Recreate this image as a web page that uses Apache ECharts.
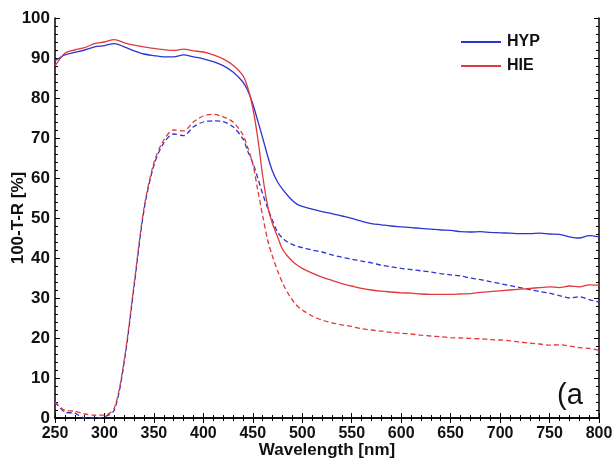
<!DOCTYPE html>
<html>
<head>
<meta charset="utf-8">
<script src="https://cdn.jsdelivr.net/npm/echarts@6/dist/echarts.min.js"></script>
<style>
  html, body { margin: 0; padding: 0; background: #fff; }
  #chart { width: 615px; height: 458px; }
</style>
</head>
<body>
<div id="chart"></div>
<script>
// wavelength grid (nm)
const wavelength = [
  250, 260, 270, 280, 290, 300, 310, 320, 330, 340, 350, 360, 370, 380, 390, 400, 410, 420, 430, 440,
  445, 450, 455, 460, 465, 470, 475, 480, 485, 490, 495, 500,
  510, 520, 530, 540, 550, 560, 570, 580, 590, 600, 610, 620, 630, 640, 650, 660, 670, 680, 690, 700,
  710, 720, 730, 740, 750, 760, 770, 780, 790, 800
]

// solid curves
const hypSolid = [
  89.3, 90.8, 91.4, 92.0, 92.8, 93.1, 93.6, 92.8, 91.8, 91.0, 90.6, 90.3, 90.3, 90.8, 90.3, 89.8, 89.1, 88.1, 86.5, 84.0,
  81.8, 78.5, 74.3, 70.0, 65.5, 61.6, 59.0, 57.2, 55.7, 54.4, 53.4, 52.9,
  52.2, 51.6, 51.1, 50.5, 49.9, 49.2, 48.6, 48.3, 48.0, 47.8, 47.6, 47.4, 47.2, 47.0, 46.9, 46.6, 46.5, 46.6, 46.4, 46.3,
  46.2, 46.1, 46.1, 46.2, 46.0, 45.9, 45.3, 45.0, 45.6, 45.3
]
const hieSolid = [
  88.0, 91.2, 92.0, 92.6, 93.6, 94.0, 94.6, 93.8, 93.2, 92.8, 92.4, 92.1, 91.9, 92.2, 91.8, 91.5, 90.8, 89.8, 88.2, 85.6,
  82.5, 77.5, 70.0, 60.5, 53.0, 48.5, 45.3, 42.2, 40.5, 39.2, 38.2, 37.4,
  36.2, 35.2, 34.4, 33.6, 33.0, 32.4, 32.0, 31.7, 31.5, 31.3, 31.2, 31.0, 30.9, 30.9, 30.9, 31.0, 31.1, 31.4, 31.6, 31.8,
  32.0, 32.2, 32.4, 32.6, 32.8, 32.6, 33.0, 32.8, 33.3, 33.2
]

// dashed curves
const hypDashed = [
  4.0, 1.5, 1.2, 0.0, 0.0, 0.3, 2.0, 14.0, 33.0, 52.0, 63.2, 68.8, 71.0, 70.6, 72.8, 74.0, 74.3, 74.1, 72.8, 69.8,
  66.6, 63.8, 60.0, 56.0, 52.5, 49.3, 46.5, 45.0, 44.0, 43.4, 42.9, 42.6,
  42.0, 41.5, 40.8, 40.2, 39.7, 39.2, 38.8, 38.2, 37.8, 37.4, 37.1, 36.8, 36.5, 36.1, 35.8, 35.5, 35.0, 34.6, 34.1, 33.6,
  33.1, 32.6, 32.1, 31.6, 31.2, 30.6, 30.0, 30.3, 29.6, 29.0
]
const hieDashed = [
  4.0, 1.9, 1.7, 1.0, 0.7, 0.7, 2.5, 14.5, 33.5, 52.5, 63.8, 69.5, 72.0, 71.8, 74.0, 75.5, 75.9, 75.3, 74.0, 70.8,
  67.5, 63.5, 57.0, 50.5, 44.5, 40.3, 36.8, 33.8, 31.4, 29.5, 28.0, 27.0,
  25.5, 24.5, 23.8, 23.3, 22.9, 22.3, 22.0, 21.7, 21.4, 21.2, 21.0, 20.7, 20.5, 20.3, 20.1, 20.0, 19.9, 19.8, 19.6, 19.5,
  19.3, 19.0, 18.7, 18.5, 18.2, 18.3, 18.0, 17.6, 17.4, 16.9
]

const BLUE = '#2b35cf'
const RED = '#e2383a'
const FONT = 'Liberation Sans, Arial, sans-serif'

function pairs(ys) {
  return wavelength.map((x, i) => [x, ys[i]])
}

function line(name, ys, color, dashed) {
  return {
    name: name,
    type: 'line',
    data: pairs(ys),
    showSymbol: false,
    smooth: 0.3,
    lineStyle: { color: color, width: 1.3, type: dashed ? [5, 3] : 'solid' },
    itemStyle: { color: color },
    z: dashed ? 2 : 3
  }
}

const tickStyle = { lineStyle: { color: '#000', width: 1 } }

const chart = echarts.init(document.getElementById('chart'))
chart.setOption({
  animation: false,
  backgroundColor: '#fff',
  grid: { left: 55, right: 16, top: 18, bottom: 40, outerBoundsMode: 'none', containLabel: false },
  legend: {
    data: ['HYP', 'HIE'],
    orient: 'vertical',
    left: 461,
    top: 34,
    padding: 0,
    itemWidth: 40,
    itemHeight: 2,
    itemGap: 8,
    icon: 'rect',
    textStyle: { fontFamily: FONT, fontSize: 16, fontWeight: 'bold', color: '#111', padding: [0, 0, 0, 1] }
  },
  xAxis: [
    {
      type: 'value', min: 250, max: 800, interval: 50,
      name: 'Wavelength [nm]', nameLocation: 'middle', nameGap: 24, nameMoveOverlap: false,
      nameTextStyle: { fontFamily: FONT, fontSize: 17, fontWeight: 'bold', color: '#111' },
      axisLine: { lineStyle: { color: '#000', width: 1.5 } },
      axisTick: { inside: true, length: 5, ...tickStyle },
      minorTick: { show: true, splitNumber: 5, length: 3, lineStyle: { color: '#000' } },
      splitLine: { show: false },
      axisLabel: { margin: 8, fontFamily: FONT, fontSize: 16, fontWeight: 'bold', color: '#111' }
    },
    {
      type: 'value', min: 250, max: 800, interval: 50, position: 'top',
      axisLine: { lineStyle: { color: '#000', width: 1.5 } },
      axisTick: { inside: true, length: 5, ...tickStyle },
      minorTick: { show: true, splitNumber: 5, length: 3, lineStyle: { color: '#000' } },
      splitLine: { show: false },
      axisLabel: { show: false }
    }
  ],
  yAxis: [
    {
      type: 'value', min: 0, max: 100, interval: 10,
      name: '100-T-R [%]', nameLocation: 'middle', nameGap: 28, nameMoveOverlap: false,
      nameTextStyle: { fontFamily: FONT, fontSize: 17, fontWeight: 'bold', color: '#111' },
      axisLine: { show: true, lineStyle: { color: '#000', width: 1.5 } },
      axisTick: { show: true, inside: true, length: 5, ...tickStyle },
      minorTick: { show: true, splitNumber: 5, length: 3, lineStyle: { color: '#000' } },
      splitLine: { show: false },
      axisLabel: { margin: 5, fontFamily: FONT, fontSize: 17, fontWeight: 'bold', color: '#111' }
    },
    {
      type: 'value', min: 0, max: 100, interval: 10, position: 'right',
      axisLine: { show: true, lineStyle: { color: '#000', width: 1.5 } },
      axisTick: { show: true, inside: true, length: 5, ...tickStyle },
      minorTick: { show: true, splitNumber: 5, length: 3, lineStyle: { color: '#000' } },
      splitLine: { show: false },
      axisLabel: { show: false }
    }
  ],
  graphic: [
    {
      type: 'text', left: 557, top: 381,
      style: { text: '(a', font: '29px ' + FONT, fill: '#111' }
    }
  ],
  series: [
    line('HYP dashed', hypDashed, BLUE, true),
    line('HIE dashed', hieDashed, RED, true),
    line('HYP', hypSolid, BLUE, false),
    line('HIE', hieSolid, RED, false)
  ]
})
</script>
</body>
</html>
